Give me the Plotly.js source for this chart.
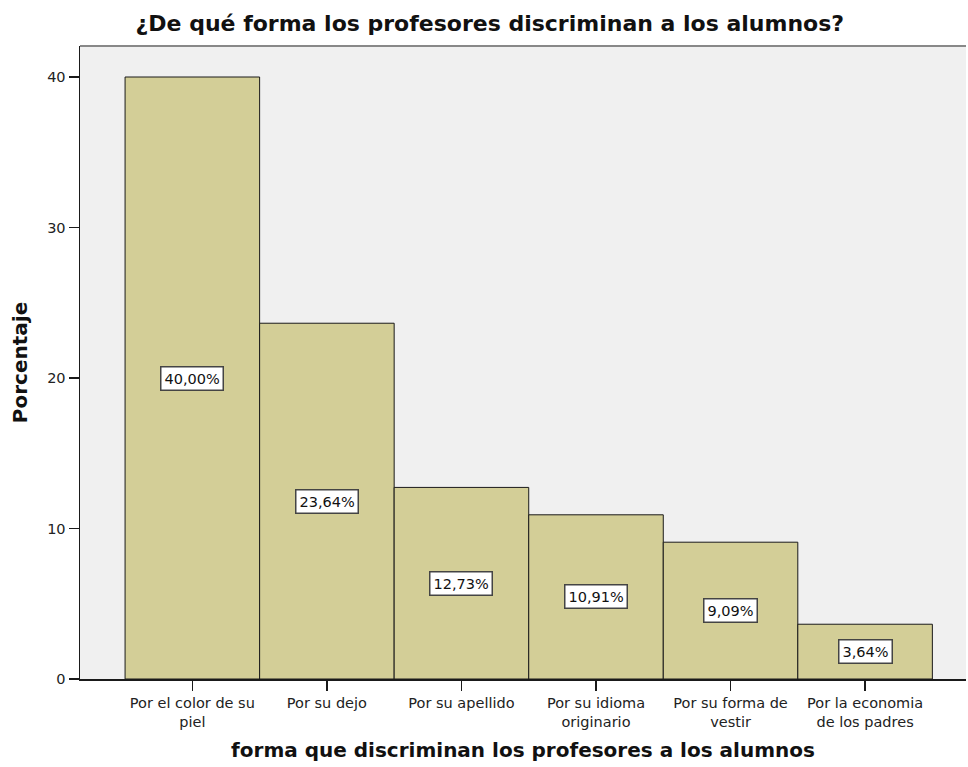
<!DOCTYPE html>
<html>
<head>
<meta charset="utf-8">
<script src="https://cdn.plot.ly/plotly-3.0.1.min.js"></script>
<style>html,body{margin:0;padding:0;background:#fff;}#chart{width:968px;height:767px;}</style>
</head>
<body>
<div id="chart"></div>
<script>
const categories = ["Por el color de su<br>piel", "Por su dejo", "Por su apellido", "Por su idioma<br>originario", "Por su forma de<br>vestir", "Por la economia<br>de los padres"];
const percentages = [40.00, 23.64, 12.73, 10.91, 9.09, 3.64];
const labels = ["40,00%", "23,64%", "12,73%", "10,91%", "9,09%", "3,64%"];
const yTicks = [0, 10, 20, 30, 40];

const trace = {
  type: "bar",
  x: categories,
  y: percentages,
  width: 1,
  marker: {color: "#d3ce97", line: {color: "#1a1a1a", width: 1}},
  hoverinfo: "skip"
};

const annotations = categories.map((c, i) => ({
  x: c, y: percentages[i] / 2, xref: "x", yref: "y",
  text: labels[i], showarrow: false,
  bgcolor: "#ffffff", bordercolor: "#444444", borderwidth: 1.5, borderpad: 3,
  font: {family: "DejaVu Sans, Verdana, sans-serif", size: 14.5, color: "#111111"}
}));

const layout = {
  width: 968, height: 767,
  margin: {l: 80, r: 2, t: 46, b: 88},
  paper_bgcolor: "#ffffff",
  plot_bgcolor: "#f0f0f0",
  bargap: 0,
  showlegend: false,
  title: {
    text: "¿De qué forma los profesores discriminan a los alumnos?",
    x: 0.506, xanchor: "center", y: 0.969, yanchor: "middle",
    font: {family: "DejaVu Sans, Verdana, sans-serif", size: 22, color: "#111111", weight: "bold"}
  },
  xaxis: {
    type: "category",
    range: [-0.835, 5.75],
    showgrid: false, zeroline: false,
    showline: true, linecolor: "#1a1a1a", linewidth: 1.5, mirror: false,
    ticks: "outside", ticklen: 10, tickcolor: "#1a1a1a", tickwidth: 1.5,
    tickfont: {family: "DejaVu Sans, Verdana, sans-serif", size: 14.5, color: "#222222"},
    title: {
      text: "forma que discriminan los profesores a los alumnos",
      standoff: 14,
      font: {family: "DejaVu Sans, Verdana, sans-serif", size: 20, color: "#111111", weight: "bold"}
    }
  },
  yaxis: {
    range: [0, 42.06],
    tickvals: yTicks,
    ticktext: yTicks.map(String),
    showgrid: false, zeroline: false,
    showline: true, linecolor: "#1a1a1a", linewidth: 1.5,
    ticks: "outside", ticklen: 10, tickcolor: "#1a1a1a", tickwidth: 1.5,
    tickfont: {family: "DejaVu Sans, Verdana, sans-serif", size: 14.5, color: "#222222"},
    title: {
      text: "Porcentaje",
      standoff: 14,
      font: {family: "DejaVu Sans, Verdana, sans-serif", size: 20, color: "#111111", weight: "bold"}
    }
  },
  shapes: [{
    type: "line", xref: "paper", yref: "paper", x0: 0, x1: 1, y0: 1, y1: 1,
    line: {color: "#888888", width: 2}
  }],
  annotations: annotations
};

Plotly.newPlot("chart", [trace], layout, {displayModeBar: false, staticPlot: true});
</script>
</body>
</html>
